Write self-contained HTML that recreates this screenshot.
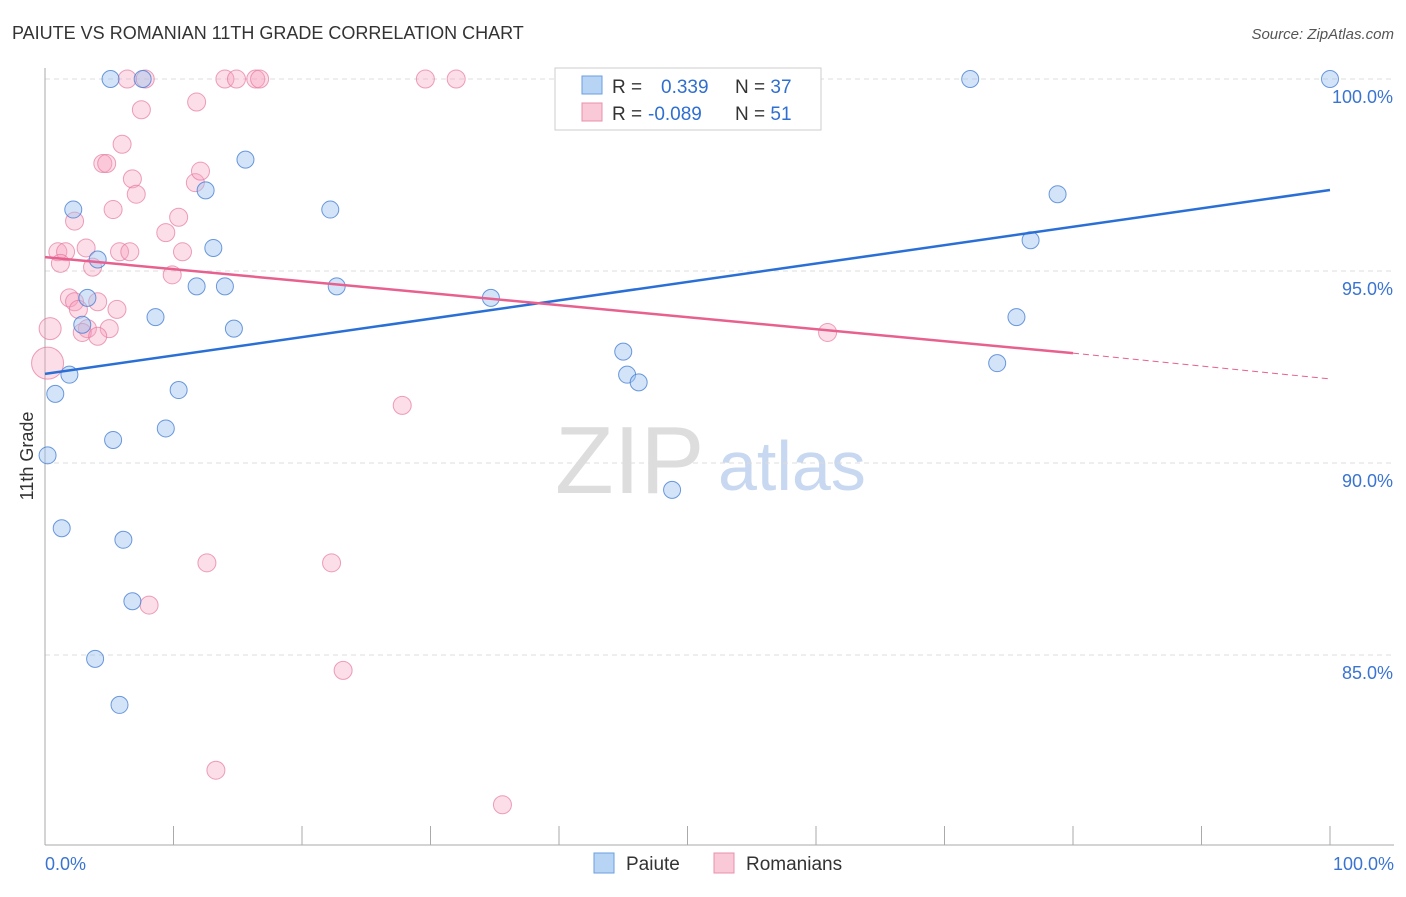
<!DOCTYPE html>
<html><head><meta charset="utf-8"><style>
body{margin:0;background:#fff;font-family:"Liberation Sans",sans-serif}
svg text{font-family:"Liberation Sans",sans-serif}
</style></head><body>
<svg id="c" width="1406" height="892">
<text x="12" y="39" font-size="18" fill="#333">PAIUTE VS ROMANIAN 11TH GRADE CORRELATION CHART</text>
<text x="1394" y="39" font-size="15" fill="#555" font-style="italic" text-anchor="end">Source: ZipAtlas.com</text>
<text x="33" y="456" font-size="18" fill="#333" transform="rotate(-90 33 456)" text-anchor="middle">11th Grade</text>
<text x="555" y="493" font-size="96" fill="#ddd" font-family="Liberation Serif">ZIP</text>
<text x="718" y="490" font-size="70" fill="#c8d8f0">atlas</text>
<g id="grid"></g><g id="pts"></g><g id="trend"></g>
<g>
<rect x="555" y="68" width="266" height="62" fill="#fff" stroke="#ccc"/>
<rect x="582" y="76" width="20" height="18" fill="#b8d4f5" stroke="#6a9ee0"/>
<rect x="582" y="103" width="20" height="18" fill="#f9c9d7" stroke="#e890ab"/>
<text x="612" y="93" font-size="19" fill="#333">R = <tspan fill="#2f6fd0" x="661">0.339</tspan><tspan fill="#333" x="735">N = </tspan><tspan fill="#2f6fd0">37</tspan></text>
<text x="612" y="120" font-size="19" fill="#333">R = <tspan fill="#2f6fd0" x="648">-0.089</tspan><tspan fill="#333" x="735">N = </tspan><tspan fill="#2f6fd0">51</tspan></text>
</g>
<g>
<rect x="594" y="853" width="20" height="20" fill="#b8d4f5" stroke="#6a9ee0"/>
<text x="626" y="870" font-size="19" fill="#333">Paiute</text>
<rect x="714" y="853" width="20" height="20" fill="#f9c9d7" stroke="#e890ab"/>
<text x="746" y="870" font-size="19" fill="#333">Romanians</text>
</g>
</svg>
<script>
const yTicks=[100,95,90,85];
const yTickLabels=["100.0%","95.0%","90.0%","85.0%"];
const xTickLabels=["0.0%","100.0%"];
const blueX=[5.1,7.6,72,100,15.6,12.5,2.2,22.2,78.8,13.1,4.1,76.7,11.8,14,22.7,3.3,34.7,8.6,2.9,14.7,75.6,45,74.1,1.9,45.3,46.2,0.8,10.4,9.4,5.3,0.2,48.8,1.3,6.1,6.8,3.9,5.8];
const blueY=[100,100,100,100,97.9,97.1,96.6,96.6,97,95.6,95.3,95.8,94.6,94.6,94.6,94.3,94.3,93.8,93.6,93.5,93.8,92.9,92.6,92.3,92.3,92.1,91.8,91.9,90.9,90.6,90.2,89.3,88.3,88,86.4,84.9,83.7];
const pinkX=[6.4,7.8,14,14.9,16.4,16.7,29.6,32,54,7.5,11.8,6,4.5,4.8,6.8,11.7,12.1,7.1,5.3,10.4,2.3,9.4,3.2,1,1.6,5.8,6.6,10.7,1.2,3.7,9.9,1.9,2.3,4.1,2.6,5.6,3.3,0.4,2.9,5,4.1,60.9,0.2,27.8,12.6,22.3,8.1,23.2,13.3,35.6];
const pinkY=[100,100,100,100,100,100,100,100,100,99.2,99.4,98.3,97.8,97.8,97.4,97.3,97.6,97,96.6,96.4,96.3,96,95.6,95.5,95.5,95.5,95.5,95.5,95.2,95.1,94.9,94.3,94.2,94.2,94,94,93.5,93.5,93.4,93.5,93.3,93.4,92.6,91.5,87.4,87.4,86.3,84.6,82,81.1];
const pinkR=[9,9,9,9,9,9,9,9,9,9,9,9,9,9,9,9,9,9,9,9,9,9,9,9,9,9,9,9,9,9,9,9,9,9,9,9,9,11,9,9,9,9,16,9,9,9,9,9,9,9];
const blueTrend=[92.32,97.11];
const pinkTrend=[95.36,92.86,92.19];
const X0=45,X1=1330,Y100=79,PPU=38.4;
const sx=v=>X0+(X1-X0)*v/100, sy=v=>Y100+(100-v)*PPU;
const NS="http://www.w3.org/2000/svg";
function mk(t,a,p){const e=document.createElementNS(NS,t);for(const k in a)e.setAttribute(k,a[k]);p.appendChild(e);return e;}
const grid=document.getElementById('grid');
yTicks.forEach((t,i)=>{
 const l=mk('line',{x1:45,x2:1394,y1:sy(t),y2:sy(t),stroke:'#ddd','stroke-dasharray':'5,4'},grid);
 
 
 const tx=mk('text',{x:1393,y:sy(t)+24,'font-size':18,fill:'#3a74d0','text-anchor':'end'},grid);
 tx.textContent=yTickLabels[i];
 
 
});
const ax=mk('line',{x1:45,x2:45,y1:68,y2:845,stroke:'#aaa'},grid);


const bx=mk('line',{x1:45,x2:1394,y1:845,y2:845,stroke:'#aaa'},grid);


for(let i=0;i<=10;i++){const t=mk('line',{x1:sx(i*10),x2:sx(i*10),y1:826,y2:845,stroke:'#aaa'},grid);
 
 }
[[0,'start',45],[100,'end',1394]].forEach((d,i)=>{const t=mk('text',{x:d[2],y:870,'font-size':18,fill:'#3a74d0','text-anchor':d[1]},grid);t.textContent=xTickLabels[i];
 
 });
const pts=document.getElementById('pts');
pinkX.forEach((x,i)=>{const c=mk('circle',{cx:sx(x),cy:sy(pinkY[i]),r:pinkR[i],fill:'rgba(245,160,190,0.35)',stroke:'rgba(230,120,160,0.7)'},pts);
 
 });
blueX.forEach((x,i)=>{const c=mk('circle',{cx:sx(x),cy:sy(blueY[i]),r:8.5,fill:'rgba(160,195,240,0.45)',stroke:'rgba(60,120,210,0.75)'},pts);
 
 });
const tr=document.getElementById('trend');
const b=mk('line',{x1:sx(0),y1:sy(blueTrend[0]),x2:sx(100),y2:sy(blueTrend[1]),stroke:'#2a6fd6','stroke-width':2.5},tr);


const p=mk('line',{x1:sx(0),y1:sy(pinkTrend[0]),x2:sx(80),y2:sy(pinkTrend[1]),stroke:'#e8608f','stroke-width':2.5},tr);


const pd=mk('line',{x1:sx(80),y1:sy(pinkTrend[1]),x2:sx(100),y2:sy(pinkTrend[2]),stroke:'#e8608f','stroke-width':1,'stroke-dasharray':'6,4'},tr);


</script>
</body></html>
